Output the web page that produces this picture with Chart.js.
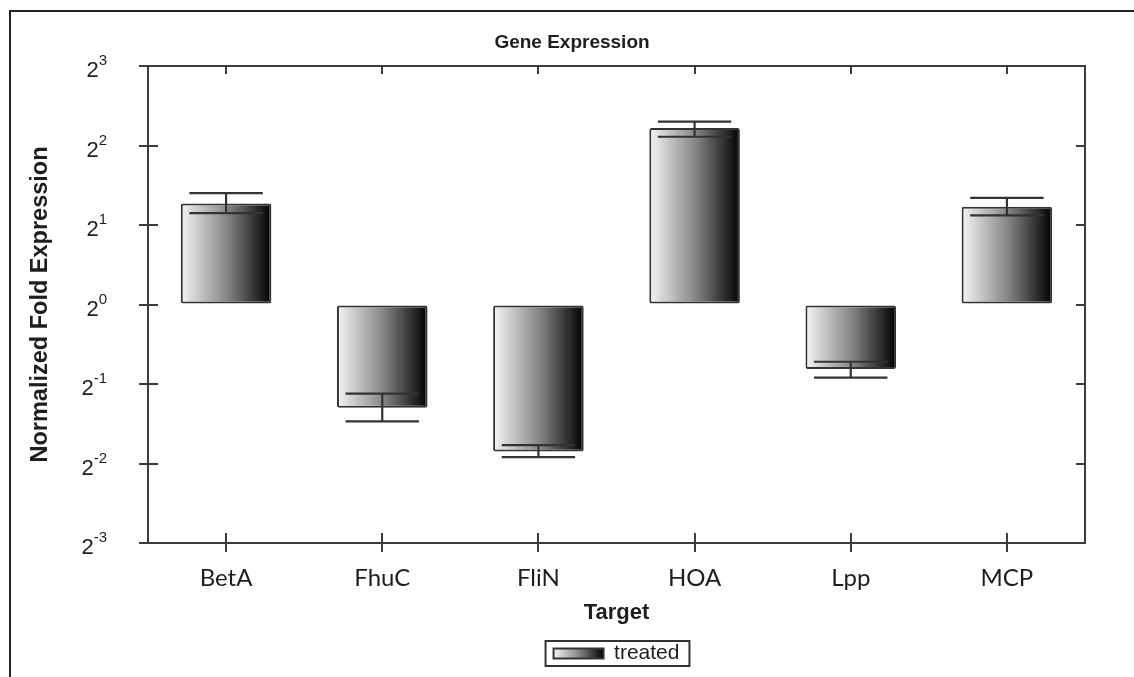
<!DOCTYPE html>
<html>
<head>
<meta charset="utf-8">
<script src="https://cdn.jsdelivr.net/npm/chart.js@4.4.0/dist/chart.umd.min.js"></script>
<style>
  html, body { margin: 0; padding: 0; background: #ffffff; }
  #wrap { width: 1134px; height: 677px; position: relative; }
</style>
</head>
<body>
<div id="wrap"><canvas id="c" width="1134" height="677"></canvas></div>
<script>
// ---- data (log2 of normalized fold expression) ----
const categories = ['BetA', 'FhuC', 'FliN', 'HOA', 'Lpp', 'MCP'];
const log2Fold   = [1.27, -1.30, -1.85, 2.22, -0.81, 1.23];
const errUpper   = [1.40, -1.12, -1.77, 2.30, -0.72, 1.34];
const errLower   = [1.15, -1.47, -1.92, 2.11, -0.92, 1.12];
const yTickExponents = [-3, -2, -1, 0, 1, 2, 3];
const seriesName = 'treated';
const chartTitle = 'Gene Expression';
const xTitle = 'Target';
const yTitle = 'Normalized Fold Expression';

// ---- styling ----
const SANS = "'Liberation Sans', Arial, sans-serif";
const AXIS = '#3c3c3c';
const TEXT = '#1e1e1e';
const BAR_PCT = 0.58;
const CAP_FRAC = 0.47;

function makeGradient(ctx, x0, x1) {
  const g = ctx.createLinearGradient(x0, 0, x1, 0);
  g.addColorStop(0, '#f5f5f5');
  g.addColorStop(0.5, '#888888');
  g.addColorStop(1, '#000000');
  return g;
}

const decor = {
  id: 'decor',
  beforeDraw(chart) {
    const lg = chart.legend;
    if (lg && lg.legendItems && lg.legendItems.length && lg.legendHitBoxes.length) {
      const hb = lg.legendHitBoxes[0];
      lg.legendItems[0].fillStyle = makeGradient(chart.ctx, hb.left, hb.left + 50);
    }
  },
  afterDatasetsDraw(chart) {
    const ctx = chart.ctx, xs = chart.scales.x, ys = chart.scales.y;
    const catW = xs.width / categories.length;
    ctx.save();
    ctx.strokeStyle = '#333333';
    ctx.lineWidth = 2.2;
    categories.forEach((c, i) => {
      const cx = xs.getPixelForValue(i);
      const yH = ys.getPixelForValue(errUpper[i]);
      const yL = ys.getPixelForValue(errLower[i]);
      const h = catW * CAP_FRAC / 2;
      ctx.beginPath();
      ctx.moveTo(cx, yH); ctx.lineTo(cx, yL);
      ctx.moveTo(cx - h, yH); ctx.lineTo(cx + h, yH);
      ctx.moveTo(cx - h, yL); ctx.lineTo(cx + h, yL);
      ctx.stroke();
    });
    ctx.restore();
  },
  afterDraw(chart) {
    const ctx = chart.ctx, xs = chart.scales.x, ys = chart.scales.y;
    const a = chart.chartArea;
    ctx.save();
    // outer frame
    ctx.strokeStyle = '#222222';
    ctx.lineWidth = 2;
    ctx.beginPath();
    ctx.moveTo(10, 677); ctx.lineTo(10, 11); ctx.lineTo(1134, 11);
    ctx.stroke();
    // inner tick stubs
    ctx.strokeStyle = AXIS;
    ctx.lineWidth = 2;
    ctx.beginPath();
    ys.ticks.forEach(t => {
      const y = Math.round(ys.getPixelForValue(t.value));
      ctx.moveTo(a.left, y); ctx.lineTo(a.left + 10, y);
      ctx.moveTo(a.right - 9, y); ctx.lineTo(a.right, y);
    });
    categories.forEach((c, i) => {
      const x = Math.round(xs.getPixelForValue(i));
      ctx.moveTo(x, a.bottom); ctx.lineTo(x, a.bottom - 10);
      ctx.moveTo(x, a.top); ctx.lineTo(x, a.top + 8);
    });
    ctx.stroke();
    // y tick labels 2^n
    ctx.fillStyle = TEXT;
    ctx.textBaseline = 'alphabetic';
    ctx.textAlign = 'left';
    ys.ticks.forEach(t => {
      const y = ys.getPixelForValue(t.value);
      const exp = String(t.value);
      ctx.font = '15px ' + SANS;
      const wE = ctx.measureText(exp).width;
      ctx.font = '22px ' + SANS;
      const wB = ctx.measureText('2').width;
      const right = 107;
      ctx.fillText('2', right - wE - wB, y + 11);
      ctx.font = '15px ' + SANS;
      ctx.fillText(exp, right - wE, y - 1);
    });
    // legend frame
    const lg = chart.legend;
    if (lg && lg.legendHitBoxes.length) {
      const hb = lg.legendHitBoxes[0];
      const cy = hb.top + hb.height / 2;
      ctx.strokeStyle = '#333333';
      ctx.lineWidth = 2;
      ctx.strokeRect(hb.left - 8, cy - 12.5, hb.width + 18, 25);
    }
    ctx.restore();
  }
};

new Chart(document.getElementById('c'), {
  type: 'bar',
  data: {
    labels: categories,
    datasets: [{
      label: seriesName,
      data: log2Fold,
      backgroundColor: (c) => {
        const chart = c.chart;
        if (c.type !== 'data' || !chart.chartArea) return '#888888';
        const xs = chart.scales.x;
        const cx = xs.getPixelForValue(c.dataIndex);
        const half = xs.width / categories.length * BAR_PCT / 2;
        return makeGradient(chart.ctx, cx - half, cx + half);
      },
      borderColor: '#333333',
      borderWidth: 2,
      borderSkipped: false,
      borderRadius: 2,
      barPercentage: BAR_PCT,
      categoryPercentage: 1.0
    }]
  },
  options: {
    responsive: false,
    animation: false,
    devicePixelRatio: 1,
    layout: { padding: { left: 10, top: 0, right: 0, bottom: 3 } },
    plugins: {
      title: {
        display: true, text: chartTitle, color: TEXT,
        font: { family: SANS, size: 19, weight: 'bold' },
        padding: { top: 31, bottom: 12.2 }
      },
      legend: {
        display: true, position: 'bottom', fullSize: false,
        labels: {
          color: TEXT, font: { family: SANS, size: 21 },
          boxWidth: 50, boxHeight: 10, padding: 15
        }
      },
      tooltip: { enabled: false }
    },
    scales: {
      x: {
        type: 'category', position: 'bottom', offset: true,
        grid: { display: true, offset: false, drawOnChartArea: false, drawTicks: true, tickLength: 9, color: AXIS, lineWidth: 2 },
        border: { display: true, color: AXIS, width: 2 },
        ticks: { color: TEXT, font: { family: "Lato, 'Open Sans', sans-serif", size: 24 }, padding: 12, maxRotation: 0 },
        title: { display: true, text: xTitle, color: TEXT, font: { family: SANS, size: 22, weight: 'bold' }, padding: { top: 0, bottom: 2 } },
        afterFit: (s) => { s.height = 85; }
      },
      x2: {
        type: 'category', position: 'top', offset: true,
        grid: { display: false },
        border: { display: true, color: AXIS, width: 2 },
        ticks: { display: false },
        afterFit: (s) => { s.height = 0; }
      },
      y: {
        type: 'linear', position: 'left', min: -3, max: 3,
        afterBuildTicks: (s) => { s.ticks = yTickExponents.map(v => ({ value: v })); },
        grid: { display: true, drawOnChartArea: false, drawTicks: true, tickLength: 9, color: AXIS, lineWidth: 2 },
        border: { display: true, color: AXIS, width: 2 },
        ticks: { display: false, callback: (v) => '2^' + v },
        title: { display: true, text: yTitle, color: TEXT, font: { family: SANS, size: 23.5, weight: 'bold' }, padding: { top: 16, bottom: 0 } },
        afterFit: (s) => { s.width = 138; }
      },
      y2: {
        type: 'linear', position: 'right', min: -3, max: 3,
        grid: { display: false },
        border: { display: true, color: AXIS, width: 2 },
        ticks: { display: false },
        afterFit: (s) => { s.width = 49; }
      }
    }
  },
  plugins: [decor]
});
</script>
</body>
</html>
